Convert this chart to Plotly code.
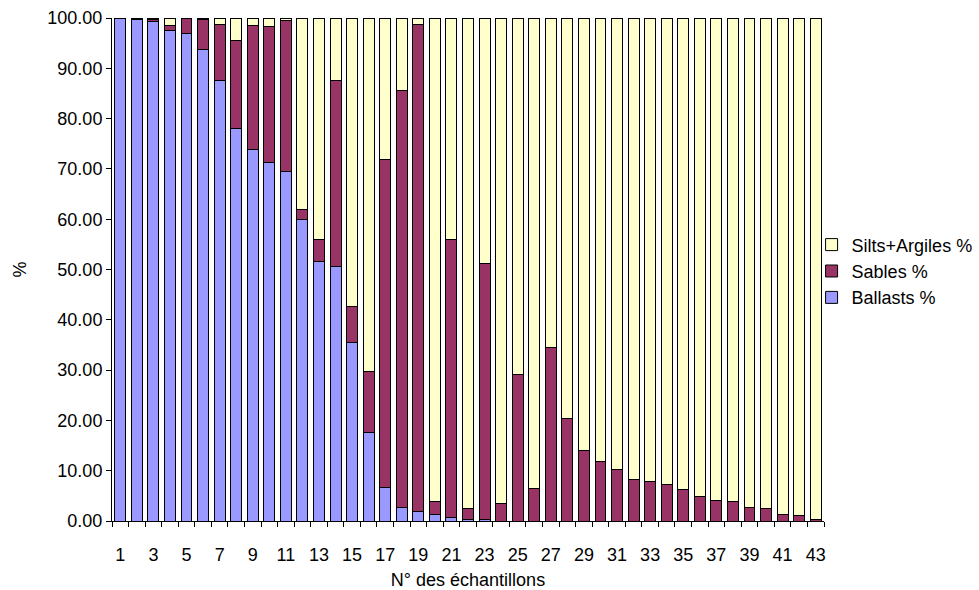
import plotly.graph_objects as go

# Sample numbers 1..43
samples = list(range(1, 44))

# Grain-size fractions (%) for each sample
ballasts = [100.0, 99.8, 99.3, 97.6, 96.9, 93.8, 87.5, 78.1, 73.9, 71.2,
            69.5, 60.0, 51.5, 50.5, 35.4, 17.5, 6.6, 2.7, 1.9, 1.3,
            0.6, 0.3, 0.2, 0.0, 0.0, 0.0, 0.0, 0.0, 0.0, 0.0,
            0.0, 0.0, 0.0, 0.0, 0.0, 0.0, 0.0, 0.0, 0.0, 0.0,
            0.0, 0.0, 0.0]
sables = [0.0, 0.2, 0.5, 0.9, 3.0, 5.9, 11.3, 17.4, 24.6, 27.2,
          30.0, 2.0, 4.4, 37.0, 7.2, 12.3, 65.2, 82.8, 96.8, 2.6,
          55.3, 2.2, 51.0, 3.5, 29.2, 6.4, 34.4, 20.3, 14.0, 11.9,
          10.3, 8.2, 7.8, 7.2, 6.2, 4.8, 4.0, 3.8, 2.6, 2.4,
          1.3, 1.0, 0.3]
silts_argiles = [0.0, 0.0, 0.2, 1.5, 0.1, 0.3, 1.2, 4.5, 1.5, 1.6,
                 0.5, 38.0, 44.1, 12.5, 57.4, 70.2, 28.2, 14.5, 1.3, 96.1,
                 44.1, 97.5, 48.8, 96.5, 70.8, 93.6, 65.6, 79.7, 86.0, 88.1,
                 89.7, 91.8, 92.2, 92.8, 93.8, 95.2, 96.0, 96.2, 97.4, 97.6,
                 98.7, 99.0, 99.7]

# Only odd sample numbers are labelled on the x axis
tick_labels = [str(n) if n % 2 == 1 else "" for n in samples]

FONT = "Liberation Sans, Arial, sans-serif"
outline = dict(color="black", width=1)

fig = go.Figure()
fig.add_trace(go.Bar(x=samples, y=ballasts, name="Ballasts %",
                     marker=dict(color="#9999FF", line=outline)))
fig.add_trace(go.Bar(x=samples, y=sables, name="Sables %",
                     marker=dict(color="#993366", line=outline)))
fig.add_trace(go.Bar(x=samples, y=silts_argiles, name="Silts+Argiles %",
                     marker=dict(color="#FFFFCC", line=outline)))

fig.update_layout(
    width=979, height=590,
    barmode="stack", bargap=0.34,
    paper_bgcolor="white", plot_bgcolor="white",
    margin=dict(l=112, r=155, t=18, b=69, autoexpand=False),
    font=dict(family=FONT, size=18, color="black"),
    legend=dict(xref="container", yref="container",
                x=0.829, y=0.54, xanchor="left", yanchor="middle",
                traceorder="reversed", font=dict(size=18),
                itemwidth=30, tracegroupgap=0, bgcolor="rgba(0,0,0,0)"),
    showlegend=True,
)

fig.update_xaxes(
    type="linear", range=[0.5, 43.5], automargin=False,
    tickmode="array", tickvals=samples, ticktext=tick_labels,
    ticks="", ticklabelstandoff=17,
    minor=dict(tickmode="linear", tick0=0.5, dtick=1, ticks="outside",
               ticklen=5, tickcolor="black", showgrid=False),
    showline=True, linecolor="black", linewidth=1,
    showgrid=False, zeroline=False,
    title=dict(text="N° des échantillons", font=dict(size=18), standoff=11),
)
fig.update_yaxes(
    range=[0, 100], dtick=10, tickformat=".2f", automargin=False,
    ticks="outside", ticklen=5, tickcolor="black",
    showline=True, linecolor="black", linewidth=1,
    showgrid=False, zeroline=False,
    title=dict(text="%", font=dict(size=18), standoff=16),
)

fig.write_html("out.html")
